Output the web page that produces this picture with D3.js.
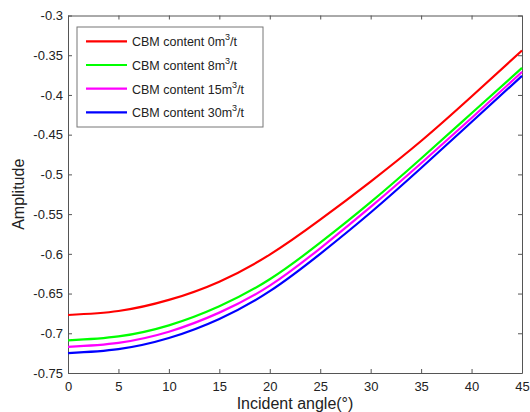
<!DOCTYPE html>
<html>
<head>
<meta charset="utf-8">
<script src="https://cdn.jsdelivr.net/npm/d3@7"></script>
<style>
  body { margin: 0; background: #fff; }
  text { font-family: "Liberation Sans", Arial, sans-serif; fill: #222; }
</style>
</head>
<body>
<div id="container"></div>
<script>
/* DATA */
const angles = [0, 5, 10, 15, 20, 25, 30, 35, 40, 45];
const cbm0  = [-0.677, -0.672, -0.658, -0.635, -0.601, -0.557, -0.509, -0.458, -0.402, -0.344];
const cbm8  = [-0.709, -0.704, -0.690, -0.666, -0.632, -0.586, -0.535, -0.480, -0.423, -0.366];
const cbm15 = [-0.717, -0.712, -0.698, -0.674, -0.640, -0.593, -0.541, -0.486, -0.429, -0.371];
const cbm30 = [-0.725, -0.720, -0.706, -0.682, -0.647, -0.600, -0.548, -0.492, -0.434, -0.376];
const seriesNames = ["0", "8", "15", "30"];
const seriesColors = ["#ff0000", "#00ff00", "#ff00ff", "#0000ff"];
const xTicks = [0, 5, 10, 15, 20, 25, 30, 35, 40, 45];
const yTicks = [-0.75, -0.7, -0.65, -0.6, -0.55, -0.5, -0.45, -0.4, -0.35, -0.3];

/* CONSTANTS */
const width = 530;
const height = 412;
const mLeft = 68, mRight = 522, mTop = 15.5, mBottom = 373;
const frameColor = "#555";

const svg = d3.select("#container")
  .append("svg")
  .attr("width", width)
  .attr("height", height);

/* SCALES */
const xScale = d3.scaleLinear().domain([0, 45]).range([mLeft, mRight]);
const yScale = d3.scaleLinear().domain([-0.75, -0.3]).range([mBottom, mTop]);

/* AXES (MATLAB style box, ticks pointing inward) */
const fmtY = d => String(+d.toFixed(2));
const axisStyle = g => {
  g.selectAll("path").attr("stroke", frameColor);
  g.selectAll("line").attr("stroke", frameColor);
  g.selectAll("text").attr("font-size", 13).attr("fill", "#222");
};

svg.append("g")
  .attr("transform", `translate(0, ${mBottom})`)
  .call(d3.axisBottom(xScale).tickValues(xTicks).tickSizeInner(-4).tickSizeOuter(0).tickPadding(8))
  .call(axisStyle)
  .call(g => g.selectAll("text").attr("dy", "0.78em"));

svg.append("g")
  .attr("transform", `translate(0, ${mTop})`)
  .call(d3.axisTop(xScale).tickValues(xTicks).tickSizeInner(-4).tickSizeOuter(0).tickFormat(""))
  .call(axisStyle);

svg.append("g")
  .attr("transform", `translate(${mLeft}, 0)`)
  .call(d3.axisLeft(yScale).tickValues(yTicks).tickSizeInner(-4).tickSizeOuter(0).tickPadding(5).tickFormat(d => fmtY(d)))
  .call(axisStyle);

svg.append("g")
  .attr("transform", `translate(${mRight}, 0)`)
  .call(d3.axisRight(yScale).tickValues(yTicks).tickSizeInner(-4).tickSizeOuter(0).tickFormat(""))
  .call(axisStyle);

/* LINES */
const seriesValues = [cbm0, cbm8, cbm15, cbm30];
const line = d3.line()
  .x((d, i) => xScale(angles[i]))
  .y(d => yScale(d))
  .curve(d3.curveNatural);

svg.append("g")
  .selectAll("path")
  .data(seriesValues)
  .join("path")
  .attr("fill", "none")
  .attr("stroke", (d, i) => seriesColors[i])
  .attr("stroke-width", 2.2)
  .attr("d", line);

/* AXIS LABELS */
svg.append("text")
  .attr("x", (mLeft + mRight) / 2)
  .attr("y", 409)
  .attr("text-anchor", "middle")
  .attr("font-size", 16)
  .text("Incident angle(°)");

svg.append("text")
  .attr("transform", `translate(24, ${(mTop + mBottom) / 2}) rotate(-90)`)
  .attr("text-anchor", "middle")
  .attr("font-size", 16)
  .text("Amplitude");

/* LEGEND */
const legend = svg.append("g").attr("transform", "translate(77, 27)");
legend.append("rect")
  .attr("width", 186)
  .attr("height", 100)
  .attr("fill", "#fff")
  .attr("stroke", "#777")
  .attr("stroke-width", 1);

const rows = legend.selectAll("g.row")
  .data(seriesNames)
  .join("g")
  .attr("class", "row")
  .attr("transform", (d, i) => `translate(0, ${14.3 + i * 23.7})`);

rows.append("line")
  .attr("x1", 9).attr("x2", 50)
  .attr("stroke", (d, i) => seriesColors[i])
  .attr("stroke-width", 2.2);

const label = rows.append("text")
  .attr("x", 55)
  .attr("y", 5)
  .attr("font-size", 12.5);
label.append("tspan").text(d => `CBM content ${d}m`);
label.append("tspan").attr("font-size", 9).attr("dy", -6).text("3");
label.append("tspan").attr("dy", 6).text("/t");
</script>
</body>
</html>
